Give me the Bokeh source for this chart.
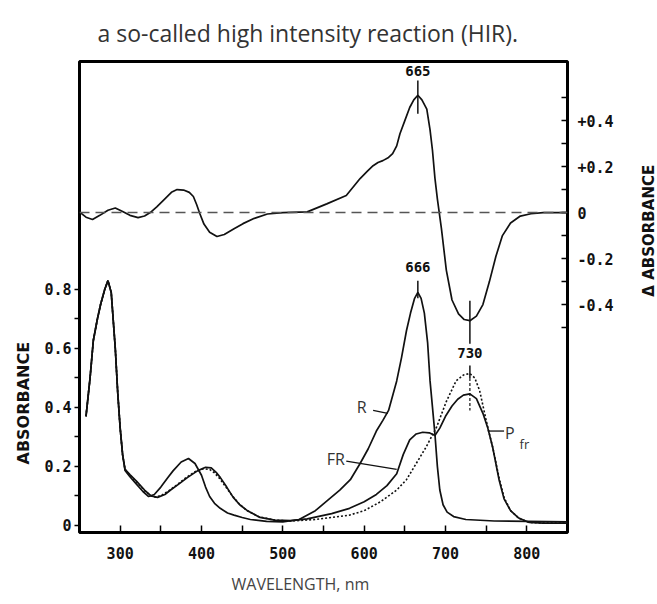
from bokeh.plotting import figure
from bokeh.models import Range1d, LinearAxis, FixedTicker, Label, Span, Title
from bokeh.layouts import row
from bokeh.embed import file_html
from bokeh.resources import INLINE

# ---------------- data ----------------
# difference spectrum (delta absorbance, right axis)
wl_diff = [251, 258, 266, 275, 285, 294, 303, 312, 322, 330, 337, 345, 355, 363, 370,
           378, 385, 390, 394, 398, 403, 410, 419, 428, 440, 451, 465, 481, 500, 530,
           554, 578, 595, 604, 611, 617, 623, 630, 635, 640, 644, 650, 656, 661, 666,
           671, 677, 681, 684, 687, 690, 695, 701, 708, 716, 723, 730, 738, 746, 754,
           762, 770, 780, 792, 805, 820, 850]
delta_abs = [0.0, -0.02, -0.03, -0.012, 0.01, 0.02, 0.005, -0.012, -0.022, -0.015, 0.0, 0.025, 0.06, 0.088, 0.10,
             0.098, 0.088, 0.07, 0.035, -0.005, -0.05, -0.085, -0.104, -0.095, -0.07, -0.048, -0.025, -0.006, 0.0, 0.003,
             0.038, 0.074, 0.148, 0.18, 0.204, 0.218, 0.226, 0.24, 0.256, 0.29, 0.343, 0.40, 0.457, 0.49, 0.51,
             0.49, 0.45, 0.36, 0.27, 0.15, 0.06, -0.07, -0.25, -0.38, -0.44, -0.465, -0.47, -0.45, -0.40, -0.30,
             -0.19, -0.10, -0.045, -0.015, -0.005, 0.0, 0.0]

# spectrum "R" (absorbance, left axis)
wl_r = [258, 263, 267, 272, 276, 281, 285, 289, 294, 297, 300, 303, 306, 312, 320,
        328, 335, 342, 350, 358, 365, 375, 384, 392, 400, 405, 410, 416, 423, 432,
        440, 450, 460, 480, 500, 520, 540, 555, 570, 583, 595, 605, 615, 623, 630,
        640, 646, 652, 657, 662, 666, 670, 674, 678, 681, 684, 687, 690, 693, 697,
        702, 710, 725, 760, 850]
abs_r = [0.37, 0.5, 0.627, 0.7, 0.75, 0.8, 0.83, 0.79, 0.6, 0.45, 0.33, 0.24, 0.186, 0.165, 0.14,
         0.115, 0.098, 0.105, 0.13, 0.16, 0.185, 0.215, 0.227, 0.21, 0.17, 0.13, 0.098, 0.075, 0.058, 0.042,
         0.035, 0.027, 0.02, 0.014, 0.012, 0.02, 0.05, 0.085, 0.12, 0.155, 0.21, 0.26, 0.32, 0.356, 0.39,
         0.49, 0.57, 0.66, 0.72, 0.77, 0.79, 0.77, 0.72, 0.62, 0.49, 0.4, 0.31, 0.2, 0.12, 0.07,
         0.045, 0.03, 0.02, 0.015, 0.012]

# spectrum "FR"
wl_fr = [258, 263, 267, 272, 276, 281, 285, 289, 294, 297, 300, 303, 306, 312, 320,
         330, 338, 346, 355, 362, 372, 383, 395, 405, 412, 418, 423, 431, 439, 447,
         456, 472, 490, 510, 530, 560, 582, 600, 615, 628, 640, 648, 656, 664, 672,
         680, 687, 693, 700, 708, 715, 722, 730, 738, 746, 752, 758, 766, 772, 780,
         790, 803, 820, 850]
abs_fr = [0.37, 0.5, 0.627, 0.7, 0.75, 0.8, 0.83, 0.79, 0.6, 0.45, 0.33, 0.24, 0.19, 0.172, 0.15,
          0.12, 0.1, 0.095, 0.105, 0.12, 0.14, 0.163, 0.185, 0.197, 0.195, 0.18, 0.163, 0.13, 0.095, 0.07,
          0.051, 0.027, 0.018, 0.016, 0.022, 0.04, 0.058, 0.08, 0.105, 0.135, 0.175, 0.24, 0.29, 0.31, 0.316,
          0.314, 0.305, 0.33, 0.37, 0.405, 0.428, 0.442, 0.446, 0.43, 0.38, 0.33, 0.265, 0.153, 0.09, 0.05,
          0.025, 0.01, 0.008, 0.008]

# calculated Pfr spectrum (dotted)
wl_pfr = [258, 263, 267, 272, 276, 281, 285, 289, 294, 297, 300, 303, 306, 312, 320,
          330, 338, 344, 352, 360, 370, 381, 392, 402, 410, 416, 422, 430, 438, 446,
          455, 470, 490, 510, 540, 582, 600, 620, 640, 652, 664, 676, 689, 701, 713,
          722, 730, 736, 742, 750, 758, 766, 772, 780, 790, 803, 820, 850]
abs_pfr = [0.37, 0.5, 0.627, 0.7, 0.75, 0.8, 0.83, 0.79, 0.6, 0.45, 0.33, 0.24, 0.19, 0.17, 0.148,
           0.118, 0.1, 0.096, 0.104, 0.118, 0.138, 0.162, 0.182, 0.192, 0.19, 0.178, 0.16, 0.13, 0.1, 0.074,
           0.052, 0.03, 0.018, 0.015, 0.02, 0.035, 0.05, 0.08, 0.12, 0.155, 0.21, 0.265, 0.333, 0.42, 0.49,
           0.51, 0.515, 0.5, 0.457, 0.356, 0.265, 0.16, 0.095, 0.05, 0.025, 0.01, 0.008, 0.008]

x_ticks = [300, 400, 500, 600, 700, 800]
x_minor = [350, 450, 550, 650, 750]
abs_ticks = [0, 0.2, 0.4, 0.6, 0.8]
abs_minor = [0.1, 0.3, 0.5, 0.7]
abs_tick_labels = ["0", "0.2", "0.4", "0.6", "0.8"]
delta_ticks = [-0.4, -0.2, 0, 0.2, 0.4]
delta_minor = [-0.5, -0.3, -0.1, 0.1, 0.3, 0.5]
delta_tick_labels = ["-0.4", "-0.2", "0", "+0.2", "+0.4"]

title_text = "a so-called high intensity reaction (HIR)."
x_label = "WAVELENGTH, nm"
left_label = "ABSORBANCE"
right_label = "\u0394 ABSORBANCE"

# ---------------- figure ----------------
TICK_FONT = "DejaVu Sans Mono"
SANS = "Open Sans"
INK = "#111111"

p = figure(width=630, height=604, output_backend="svg", toolbar_location=None,
           x_range=Range1d(250, 850), y_range=Range1d(-0.024, 1.573),
           min_border_left=79, min_border_right=63, min_border_top=61, min_border_bottom=72)
p.extra_y_ranges = {"delta": Range1d(-1.391, 0.657)}
p.xgrid.visible = False
p.ygrid.visible = False
p.outline_line_color = "black"
p.outline_line_width = 3
p.background_fill_color = "white"
p.border_fill_color = "white"

# title (above the frame)
p.title.text = title_text
p.title.align = "left"
p.title.offset = 18
p.title.standoff = 26
p.title.text_font = SANS
p.title.text_font_size = "23px"
p.title.text_font_style = "normal"
p.title.text_color = "#333333"

# bottom axis
xa = p.xaxis[0]
xa.ticker = FixedTicker(ticks=x_ticks, minor_ticks=x_minor)
xa.major_tick_in = 7
xa.major_tick_out = 0
xa.minor_tick_in = 7
xa.minor_tick_out = 0
xa.major_tick_line_width = 1.5
xa.minor_tick_line_width = 1.5
xa.axis_line_color = None
xa.major_label_text_font = TICK_FONT
xa.major_label_text_font_style = "bold"
xa.major_label_text_font_size = "15px"
xa.major_label_text_color = INK
xa.major_label_standoff = 14

# left axis
ya = p.yaxis[0]
ya.ticker = FixedTicker(ticks=abs_ticks, minor_ticks=abs_minor)
ya.major_label_overrides = {t: s for t, s in zip(abs_ticks, abs_tick_labels)}
ya.major_tick_in = 0
ya.major_tick_out = 5
ya.minor_tick_in = 0
ya.minor_tick_out = 5
ya.major_tick_line_width = 1.5
ya.minor_tick_line_width = 1.5
ya.axis_line_color = None
ya.major_label_text_font = TICK_FONT
ya.major_label_text_font_style = "bold"
ya.major_label_text_font_size = "15px"
ya.major_label_text_color = INK
ya.major_label_standoff = 3

# right axis
ra = LinearAxis(y_range_name="delta",
                ticker=FixedTicker(ticks=delta_ticks, minor_ticks=delta_minor))
ra.major_label_overrides = {t: s for t, s in zip(delta_ticks, delta_tick_labels)}
ra.major_tick_in = 6
ra.major_tick_out = 0
ra.minor_tick_in = 6
ra.minor_tick_out = 0
ra.major_tick_line_width = 1.5
ra.minor_tick_line_width = 1.5
ra.axis_line_color = None
ra.major_label_text_font = TICK_FONT
ra.major_label_text_font_style = "bold"
ra.major_label_text_font_size = "15px"
ra.major_label_text_color = INK
ra.major_label_standoff = 10
p.add_layout(ra, "right")

# axis titles as side titles
p.add_layout(Title(text=x_label, align="left", offset=152, standoff=19,
                   text_font=SANS, text_font_size="16px", text_font_style="normal",
                   text_color="#444444"), "below")
p.add_layout(Title(text=left_label, align="left", offset=68, standoff=18,
                   text_font="DejaVu Sans", text_font_size="16px", text_font_style="bold",
                   text_color=INK), "left")

# zero line for the difference spectrum
p.add_layout(Span(location=0, dimension="width", y_range_name="delta",
                  line_color="#555555", line_width=1.5, line_dash="10 6"))

# curves
p.line(wl_diff, delta_abs, y_range_name="delta", line_color=INK, line_width=1.7)
p.line(wl_r, abs_r, line_color=INK, line_width=1.7)
p.line(wl_fr, abs_fr, line_color=INK, line_width=1.7)
p.line(wl_pfr, abs_pfr, line_color=INK, line_width=1.6, line_dash="2 2")

# peak markers
p.line([666, 666], [0.574, 0.43], y_range_name="delta", line_color=INK, line_width=1.5)
p.line([666, 666], [0.83, 0.77], line_color=INK, line_width=1.5)
p.line([730, 730], [-0.383, -0.57], y_range_name="delta", line_color=INK, line_width=1.5)
p.line([730, 730], [0.542, 0.50], line_color=INK, line_width=1.5)
p.line([730, 730], [0.50, 0.39], line_color=INK, line_width=1.2, line_dash="3 2")

# leader lines
p.line([611, 629], [0.39, 0.38], line_color=INK, line_width=1.3)
p.line([578, 640], [0.218, 0.19], line_color=INK, line_width=1.3)
p.line([752, 772], [0.32, 0.32], line_color=INK, line_width=1.3)


def add_label(fig, text, x, y, size, font, style="normal", color=INK, angle=0,
              align="center", baseline="middle", yr="default"):
    fig.add_layout(Label(x=x, y=y, text=text, text_font=font, text_font_size=size,
                         text_font_style=style, text_color=color, angle=angle,
                         angle_units="deg", text_align=align, text_baseline=baseline,
                         y_range_name=yr))


add_label(p, "665", 666, 0.617, "14px", TICK_FONT, "bold", yr="delta")
add_label(p, "666", 666, 0.875, "14px", TICK_FONT, "bold")
add_label(p, "730", 730, 0.586, "14px", TICK_FONT, "bold")
add_label(p, "R", 597, 0.40, "16px", SANS, color="#333333")
add_label(p, "FR", 565, 0.225, "16px", SANS, color="#333333")
add_label(p, "P", 779, 0.315, "16px", SANS, color="#333333")
add_label(p, "fr", 797, 0.275, "13px", SANS, color="#333333")

# narrow strip on the right carrying the rotated delta-absorbance label
q = figure(width=27, height=604, output_backend="svg", toolbar_location=None,
           x_range=Range1d(0, 27), y_range=Range1d(604, 0),
           x_axis_type=None, y_axis_type=None,
           min_border_left=0, min_border_right=0, min_border_top=0, min_border_bottom=0)
q.xgrid.visible = False
q.ygrid.visible = False
q.outline_line_color = None
q.background_fill_color = "white"
q.border_fill_color = "white"
add_label(q, right_label, 18, 217, "15px", "DejaVu Sans", "bold", angle=90)

layout = row(p, q, spacing=0)
open("out.html", "w").write(file_html(layout, INLINE))
